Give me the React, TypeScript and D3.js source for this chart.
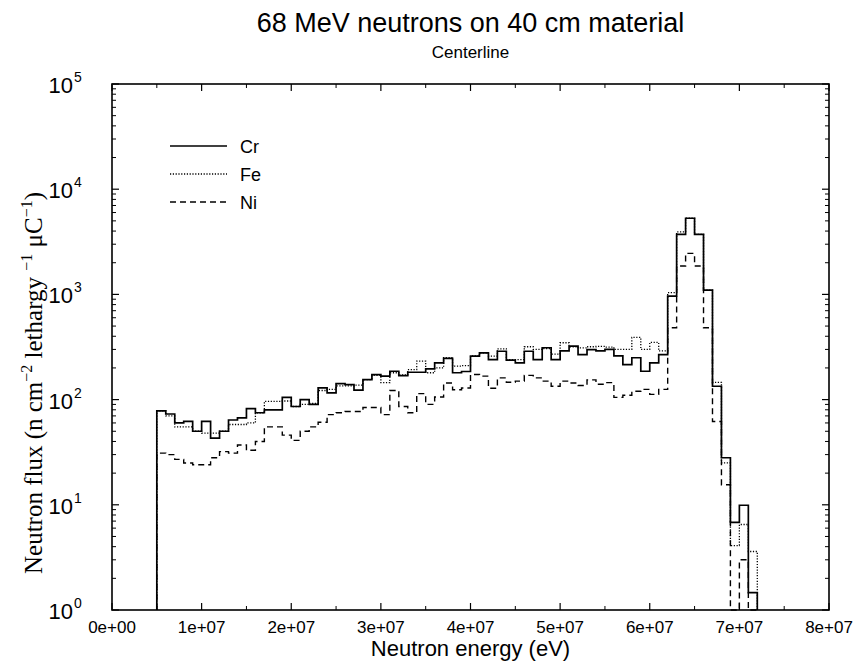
import React from "react";
import * as d3 from "d3";

const binStartMeV = 5;
const binWidthMeV = 1;

const crValues = [78, 73, 60, 62, 50, 62, 43, 50, 64, 67, 82, 75, 80, 80, 105, 86, 100, 90, 129, 116, 142, 139, 123, 155, 173, 167, 186, 169, 182, 182, 196, 223, 246, 180, 185, 259, 278, 240, 288, 237, 223, 288, 240, 311, 240, 290, 322, 268, 299, 290, 300, 260, 215, 250, 186, 223, 268, 964, 3727, 5296, 3727, 1099, 134, 28, 6.8, 9.9, 1.46];
const feValues = [78, 70, 55, 55, 50, 48, 48, 50, 58, 58, 60, 75, 96, 96, 97, 86, 90, 92, 122, 125, 135, 135, 137, 155, 170, 145, 180, 172, 193, 232, 180, 200, 250, 208, 210, 260, 278, 259, 304, 240, 240, 318, 300, 305, 270, 347, 318, 310, 318, 320, 315, 300, 300, 390, 300, 350, 290, 1038, 3924, 5300, 3727, 1099, 146, 25, 4.1, 6.5, 3.6];
const niValues = [31, 30, 27, 25, 24, 24, 28, 32, 31, 37, 33, 40, 55, 55, 46, 41, 50, 55, 61, 72, 75, 77, 77, 84, 84, 72, 122, 86, 75, 114, 90, 106, 144, 124, 129, 173, 167, 128, 161, 146, 150, 170, 161, 150, 134, 150, 144, 136, 154, 140, 145, 105, 110, 120, 125, 112, 125, 482, 1860, 2455, 1860, 482, 62, 15.5, 0, 3.0, 0];

const seriesNames = ["Cr", "Fe", "Ni"];
const xTickValues = [0, 1e7, 2e7, 3e7, 4e7, 5e7, 6e7, 7e7, 8e7];
const xTickLabels = ["0e+00", "1e+07", "2e+07", "3e+07", "4e+07", "5e+07", "6e+07", "7e+07", "8e+07"];
const yDecades = [0, 1, 2, 3, 4, 5];

const W = 858;
const H = 665;
const L = 112, R = 829, T = 84, B = 610;

const x = d3.scaleLinear().domain([0, 8e7]).range([L, R]);
const y = d3.scaleLog().domain([1, 1e5]).range([B, T]);

function stepPath(values: number[]): string {
  const floor = 1;
  const pts: [number, number][] = [];
  pts.push([binStartMeV * 1e6, floor]);
  values.forEach((v, i) => pts.push([(binStartMeV + i * binWidthMeV) * 1e6, Math.max(v, floor)]));
  pts.push([(binStartMeV + values.length * binWidthMeV) * 1e6, floor]);
  const line = d3
    .line<[number, number]>()
    .x((d) => x(d[0]))
    .y((d) => y(d[1]))
    .curve(d3.curveStepAfter);
  return line(pts) || "";
}

const styles = [
  { dash: undefined as string | undefined, width: 1.7 },
  { dash: "1.2,1.6", width: 1.3 },
  { dash: "6,4", width: 1.4 },
];

export default function App() {
  const data = [crValues, feValues, niValues];
  const minorX: number[] = [];
  for (let v = 5e6; v < 8e7; v += 1e7) minorX.push(v);
  const minorY: number[] = [];
  for (let d = 0; d < 5; d++) for (let m = 2; m <= 9; m++) minorY.push(m * Math.pow(10, d));
  const sans = "'Liberation Sans', Arial, Helvetica, sans-serif";
  const serif = "'Liberation Serif', 'Times New Roman', serif";
  const legendX0 = 170, legendX1 = 227;
  const legendY = [146, 174, 202];
  return (
    <svg width={W} height={H} style={{ display: "block", position: "absolute", left: 0, top: 0, background: "#fff" }}>
      <rect x={0} y={0} width={W} height={H} fill="#fff" />
      <text x={(L + R) / 2} y={32} textAnchor="middle" fontFamily={sans} fontSize={27}>68 MeV neutrons on 40 cm material</text>
      <text x={(L + R) / 2} y={58} textAnchor="middle" fontFamily={sans} fontSize={17}>Centerline</text>

      {[2, 1, 0].map((i) => (
        <path key={i} d={stepPath(data[i])} fill="none" stroke="#000" strokeWidth={styles[i].width} strokeDasharray={styles[i].dash} />
      ))}

      <rect x={L} y={T} width={R - L} height={B - T} fill="none" stroke="#000" strokeWidth={1.6} />

      {xTickValues.map((v) => (
        <g key={"xt" + v}>
          <line x1={x(v)} x2={x(v)} y1={B} y2={B - 7} stroke="#000" strokeWidth={1.2} />
          <line x1={x(v)} x2={x(v)} y1={T} y2={T + 7} stroke="#000" strokeWidth={1.2} />
        </g>
      ))}
      {minorX.map((v) => (
        <g key={"xm" + v}>
          <line x1={x(v)} x2={x(v)} y1={B} y2={B - 4} stroke="#000" strokeWidth={1} />
          <line x1={x(v)} x2={x(v)} y1={T} y2={T + 4} stroke="#000" strokeWidth={1} />
        </g>
      ))}
      {xTickValues.map((v, i) => (
        <text key={"xl" + v} x={x(v)} y={633} textAnchor="middle" fontFamily={sans} fontSize={17}>{xTickLabels[i]}</text>
      ))}

      {yDecades.map((d) => {
        const yy = y(Math.pow(10, d));
        return (
          <g key={"yt" + d}>
            <line x1={L} x2={L + 7} y1={yy} y2={yy} stroke="#000" strokeWidth={1.2} />
            <line x1={R} x2={R - 7} y1={yy} y2={yy} stroke="#000" strokeWidth={1.2} />
            <text x={73} y={yy + 9} textAnchor="end" fontFamily={sans} fontSize={22}>10</text>
            <text x={74} y={yy - 2} textAnchor="start" fontFamily={sans} fontSize={14}>{String(d)}</text>
          </g>
        );
      })}
      {minorY.map((v) => (
        <g key={"ym" + v}>
          <line x1={L} x2={L + 4} y1={y(v)} y2={y(v)} stroke="#000" strokeWidth={1} />
          <line x1={R} x2={R - 4} y1={y(v)} y2={y(v)} stroke="#000" strokeWidth={1} />
        </g>
      ))}

      <text x={(L + R) / 2} y={656} textAnchor="middle" fontFamily={sans} fontSize={22}>Neutron energy (eV)</text>
      <text transform={`translate(42, ${(T + B) / 2 + 36}) rotate(-90)`} textAnchor="middle" fontFamily={serif} fontSize={25}>
        Neutron flux (n cm
        <tspan dy={-10} fontSize={16}>{"\u22122"}</tspan>
        <tspan dy={10}>{" lethargy "}</tspan>
        <tspan dy={-10} fontSize={16}>{"\u22121"}</tspan>
        <tspan dy={10}>{" \u03bcC"}</tspan>
        <tspan dy={-10} fontSize={16}>{"\u22121"}</tspan>
        <tspan dy={10}>)</tspan>
      </text>

      {seriesNames.map((n, i) => (
        <g key={"lg" + n}>
          <line x1={legendX0} x2={legendX1} y1={legendY[i]} y2={legendY[i]} stroke="#000" strokeWidth={styles[i].width} strokeDasharray={styles[i].dash} />
          <text x={240} y={legendY[i] + 7} fontFamily={sans} fontSize={18}>{n}</text>
        </g>
      ))}
    </svg>
  );
}
